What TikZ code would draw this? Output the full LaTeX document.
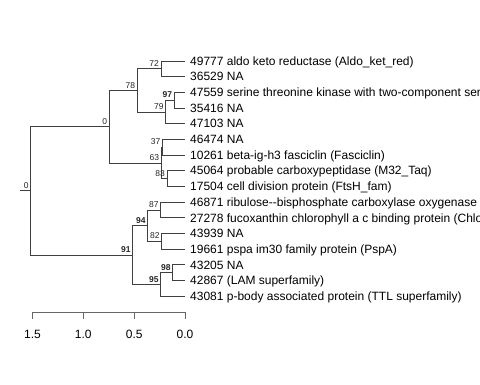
\documentclass[tikz,border=0pt]{standalone}
\usepackage{fontspec}
\setmainfont{Liberation Sans}

\begin{document}
\begin{tikzpicture}[x=1pt, y=-1pt,
  branch/.style={draw=black!75, line width=0.8pt},
  axisline/.style={draw=black!60, line width=0.8pt},
  tip/.style={anchor=base west, inner sep=0pt, yshift=-4.3pt, font=\fontsize{12}{14}\selectfont},
  support/.style={anchor=south east, inner sep=0pt, xshift=-2pt, yshift=2pt, text=black!85, font=\fontsize{8.5}{10}\selectfont},
  strong/.style={support, font=\fontsize{8.5}{10}\selectfont\bfseries}]

  \path[use as bounding box, clip] (0,0) rectangle (480,384);

  % --- leaves: tips end at 0.0, labels follow ---
  \foreach \txt [count=\i] in {
      {49777 aldo keto reductase (Aldo\_ket\_red)},
      {36529 NA},
      {47559 serine threonine kinase with two-component sensor},
      {35416 NA},
      {47103 NA},
      {46474 NA},
      {10261 beta-ig-h3 fasciclin (Fasciclin)},
      {45064 probable carboxypeptidase (M32\_Taq)},
      {17504 cell division protein (FtsH\_fam)},
      {46871 ribulose-{}-bisphosphate carboxylase oxygenase},
      {27278 fucoxanthin chlorophyll a c binding protein (Chlorophyll)},
      {43939 NA},
      {19661 pspa im30 family protein (PspA)},
      {43205 NA},
      {42867 (LAM superfamily)},
      {43081 p-body associated protein (TTL superfamily)}} {
    \coordinate (t\i) at (185, {61+15.67*(\i-1)});
    \node[tip] (lab\i) at (190, {61+15.67*(\i-1)}) {\txt};
  }

  % --- internal nodes (x = depth, y = middle of children) ---
  \coordinate (k72) at (161.0, 68.8);
  \coordinate (k97) at (174.3, 100.2);
  \coordinate (k79) at (165.7, 111.9);
  \coordinate (k78) at (137.3, 90.4);
  \coordinate (k37) at (162.5, 147.2);
  \coordinate (k83) at (167.0, 178.5);
  \coordinate (k63) at (161.3, 162.9);
  \coordinate (k0)  at (109.3, 126.6);
  \coordinate (k87) at (160.7, 209.9);
  \coordinate (k82) at (161.7, 241.2);
  \coordinate (k94) at (147.7, 225.5);
  \coordinate (k98) at (172.7, 272.5);
  \coordinate (k95) at (160.7, 284.3);
  \coordinate (k91) at (132.7, 254.9);
  \coordinate (root) at (30.7, 190.8);
  \coordinate (stub) at (20.0, 190.8);

  % --- branches: vertical at parent, then across to child ---
  \foreach \p/\c in {k72/t1, k72/t2, k97/t3, k97/t4, k79/k97, k79/t5,
      k78/k72, k78/k79, k37/t6, k37/t7, k83/t8, k83/t9, k63/k37, k63/k83,
      k0/k78, k0/k63, k87/t10, k87/t11, k82/t12, k82/t13, k94/k87, k94/k82,
      k98/t14, k98/t15, k95/k98, k95/t16, k91/k94, k91/k95,
      root/k0, root/k91}
    \draw[branch] (\p) |- (\c);
  \draw[branch] (stub) -- (root);

  % --- support values ---
  \node[support] (s72) at (k72) {72};
  \node[strong]  (s97) at (k97) {97};
  \node[support] (s79) at (k79) {79};
  \node[support] (s78) at (k78) {78};
  \node[support] (s37) at (k37) {37};
  \node[support] (s83) at (k83) {83};
  \node[support] (s63) at (k63) {63};
  \node[support] (s0)  at (k0)  {0};
  \node[support] (s87) at (k87) {87};
  \node[strong]  (s94) at (k94) {94};
  \node[support] (s82) at (k82) {82};
  \node[strong]  (s98) at (k98) {98};
  \node[strong]  (s95) at (k95) {95};
  \node[strong]  (s91) at (k91) {91};
  \node[support] (sroot) at (root) {0};

  % --- distance axis ---
  \coordinate (ax1) at (32.5, 312);
  \coordinate (ax2) at (185, 312);
  \draw[axisline] (ax1) -- (ax2);
  \foreach \v/\x [count=\i] in {1.5/32.5, 1.0/83.3, 0.5/134.2, 0.0/185} {
    \draw[axisline] (\x, 312) -- (\x, 319);
    \node[font=\fontsize{12}{14}\selectfont] (tick\i) at (\x, 334) {\v};
  }

\end{tikzpicture}
\end{document}
